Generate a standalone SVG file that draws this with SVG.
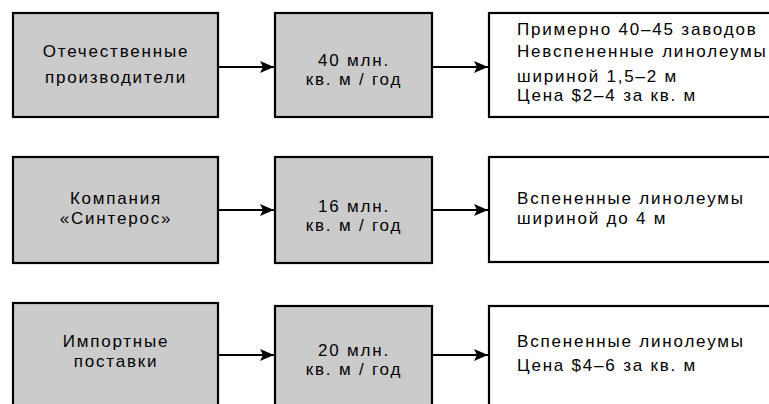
<svg xmlns="http://www.w3.org/2000/svg" width="769" height="404" viewBox="0 0 769 404">
<defs>
<marker id="ah" viewBox="0 0 14 12" refX="14" refY="6" markerWidth="14" markerHeight="12" markerUnits="userSpaceOnUse" orient="auto">
<path d="M0,0 L14,6 L0,12 L3,6 Z" fill="#000"/>
</marker>
</defs>
<style>
.g{fill:#cbcbcb;stroke:#000;stroke-width:2.2}
.w{fill:#fff;stroke:#000;stroke-width:2.2}
text{font-family:"Liberation Sans",Arial,sans-serif;font-size:17px;fill:#000;letter-spacing:1.8px}
.c{text-anchor:middle}
.conn line{stroke:#000;stroke-width:2;marker-end:url(#ah)}
</style>
<rect width="769" height="404" fill="#fff"/>
<g id="n1a"><rect class="g" x="13" y="13" width="205" height="104"/><text class="c" x="116" y="57">Отечественные</text><text class="c" x="116" y="83">производители</text></g>
<g id="n1b"><rect class="g" x="275" y="13" width="157" height="104"/><text class="c" x="354" y="66">40 млн.</text><text class="c" x="354" y="85">кв. м / год</text></g>
<g id="n1c"><rect class="w" x="489" y="13" width="300" height="104"/><text x="517" y="35">Примерно 40–45 заводов</text><text x="517" y="57">Невспененные линолеумы</text><text x="517" y="82">шириной 1,5–2 м</text><text x="517" y="101">Цена $2–4 за кв. м</text></g>
<g id="n2a"><rect class="g" x="13" y="157" width="205" height="106"/><text class="c" x="116" y="204">Компания</text><text class="c" x="116" y="224">«Синтерос»</text></g>
<g id="n2b"><rect class="g" x="275" y="157" width="157" height="106"/><text class="c" x="354" y="212">16 млн.</text><text class="c" x="354" y="231">кв. м / год</text></g>
<g id="n2c"><rect class="w" x="489" y="157" width="300" height="105"/><text x="517" y="204">Вспененные линолеумы</text><text x="517" y="224">шириной до 4 м</text></g>
<g id="n3a"><rect class="g" x="13" y="303" width="205" height="110"/><text class="c" x="116" y="347">Импортные</text><text class="c" x="116" y="367">поставки</text></g>
<g id="n3b"><rect class="g" x="275" y="306" width="157" height="110"/><text class="c" x="354" y="356">20 млн.</text><text class="c" x="354" y="375">кв. м / год</text></g>
<g id="n3c"><rect class="w" x="489" y="306" width="300" height="110"/><text x="517" y="347">Вспененные линолеумы</text><text x="517" y="371">Цена $4–6 за кв. м</text></g>
<g class="conn">
<line x1="218" y1="67" x2="274" y2="67"/>
<line x1="432" y1="67" x2="488" y2="67"/>
<line x1="218" y1="210" x2="274" y2="210"/>
<line x1="432" y1="210" x2="488" y2="210"/>
<line x1="218" y1="355" x2="274" y2="355"/>
<line x1="432" y1="355" x2="488" y2="355"/>
</g>
</svg>
